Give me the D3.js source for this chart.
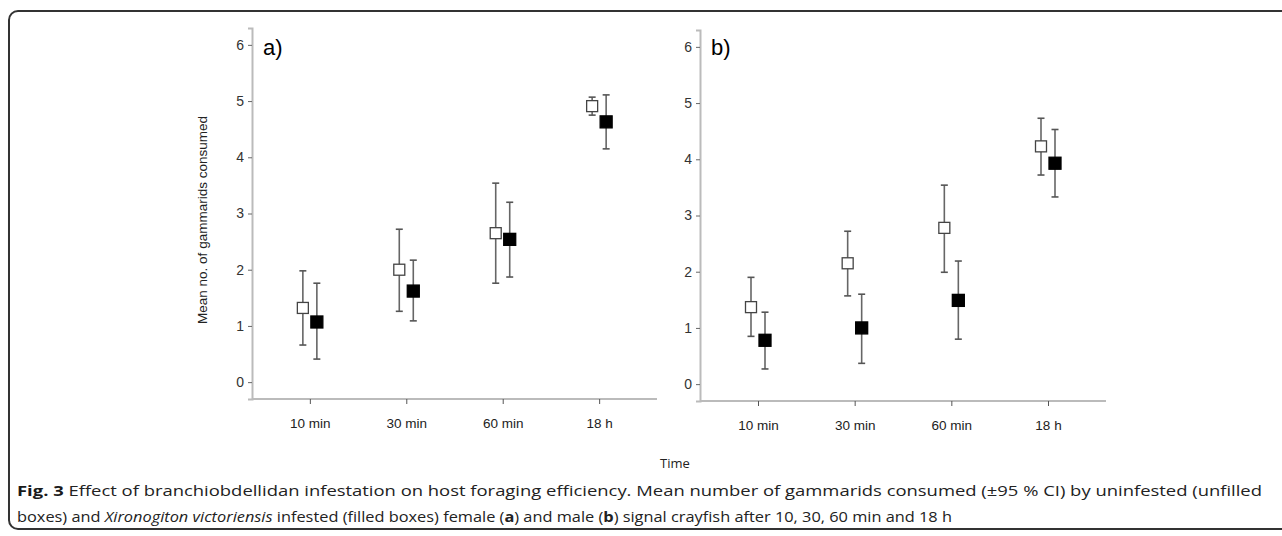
<!DOCTYPE html>
<html>
<head>
<meta charset="utf-8">
<script src="https://cdn.jsdelivr.net/npm/d3@7"></script>
<style>
  body { margin: 0; background: #fff; }
  svg { display: block; }
  .tick text { font-family: Arial, "Liberation Sans", sans-serif; }
</style>
</head>
<body>
<div id="chart"></div>
<script>
// data
const times = ['10 min', '30 min', '60 min', '18 h'];
const yTicks = [0, 1, 2, 3, 4, 5, 6];

// a) female
const femUninfMean = [1.32, 2.00, 2.65, 4.91];
const femUninfLo   = [0.66, 1.26, 1.76, 4.75];
const femUninfHi   = [1.98, 2.72, 3.54, 5.07];
const femInfMean   = [1.07, 1.62, 2.54, 4.63];
const femInfLo     = [0.41, 1.09, 1.87, 4.15];
const femInfHi     = [1.76, 2.17, 3.20, 5.11];

// b) male
const maleUninfMean = [1.37, 2.15, 2.78, 4.23];
const maleUninfLo   = [0.85, 1.57, 1.99, 3.72];
const maleUninfHi   = [1.90, 2.72, 3.54, 4.73];
const maleInfMean   = [0.78, 1.00, 1.49, 3.93];
const maleInfLo     = [0.27, 0.37, 0.80, 3.33];
const maleInfHi     = [1.28, 1.60, 2.19, 4.53];

const W = 1282, H = 536;
const svg = d3.select('#chart').append('svg')
  .attr('width', W)
  .attr('height', H);

// outer frame
svg.append('rect')
  .attr('x', 9).attr('y', 11)
  .attr('width', 1300).attr('height', 518)
  .attr('rx', 9)
  .attr('fill', 'none')
  .attr('stroke', '#333')
  .attr('stroke-width', 2);

function series(mean, lo, hi, filled) {
  return times.map((t, i) => ({ t, m: mean[i], lo: lo[i], hi: hi[i], filled }));
}

const panels = [
  { label: 'a)', x0: 252, x1: 657, yTop: 28, yBot: 399,
    data: [series(femUninfMean, femUninfLo, femUninfHi, false), series(femInfMean, femInfLo, femInfHi, true)] },
  { label: 'b)', x0: 700, x1: 1106, yTop: 30, yBot: 401,
    data: [series(maleUninfMean, maleUninfLo, maleUninfHi, false), series(maleInfMean, maleInfLo, maleInfHi, true)] }
];

const dodge = 7;

panels.forEach(p => {
  const x = d3.scalePoint().domain(times).range([p.x0, p.x1]).padding(0.6);
  const y = d3.scaleLinear().domain([-0.3, 6.3]).range([p.yBot, p.yTop]);

  const g = svg.append('g');

  // y axis
  const ya = g.append('g')
    .attr('transform', `translate(${p.x0},0)`)
    .call(d3.axisLeft(y).tickValues(yTicks).tickSize(4).tickPadding(4).tickFormat(d3.format('d')));
  ya.select('.domain').attr('stroke', '#bbb').attr('stroke-width', 2);
  ya.selectAll('.tick line').attr('stroke', '#666');
  ya.selectAll('.tick text').attr('font-size', 14).attr('fill', '#333');

  // x axis
  const xa = g.append('g')
    .attr('transform', `translate(0,${p.yBot})`)
    .call(d3.axisBottom(x).tickSize(5).tickPadding(14));
  xa.select('.domain').attr('stroke', '#bbb').attr('stroke-width', 2)
    .attr('d', `M${p.x0},0H${p.x1}`);
  xa.selectAll('.tick line').attr('stroke', '#555');
  xa.selectAll('.tick text').attr('font-size', 13.5).attr('fill', '#222');

  // panel label
  g.append('text')
    .attr('x', p.x0 + 11).attr('y', 55)
    .attr('font-family', 'Arial, "Liberation Sans", sans-serif')
    .attr('font-size', 22)
    .text(p.label);

  // error bars and boxes
  p.data.forEach(s => {
    const off = s[0].filled ? dodge : -dodge;
    const sg = g.append('g');
    const bars = sg.selectAll('g.bar').data(s).join('g').attr('class', 'bar');
    bars.append('line')
      .attr('x1', d => x(d.t) + off).attr('x2', d => x(d.t) + off)
      .attr('y1', d => y(d.lo)).attr('y2', d => y(d.hi))
      .attr('stroke', '#666').attr('stroke-width', 1.6);
    ['lo', 'hi'].forEach(k => {
      bars.append('line')
        .attr('x1', d => x(d.t) + off - 3.5).attr('x2', d => x(d.t) + off + 3.5)
        .attr('y1', d => y(d[k])).attr('y2', d => y(d[k]))
        .attr('stroke', '#555').attr('stroke-width', 1.6);
    });
    const sz = s[0].filled ? 12 : 11;
    bars.append('rect')
      .attr('x', d => x(d.t) + off - sz / 2)
      .attr('y', d => y(d.m) - sz / 2)
      .attr('width', sz).attr('height', sz)
      .attr('fill', d => d.filled ? '#000' : '#fff')
      .attr('stroke', d => d.filled ? '#000' : '#444')
      .attr('stroke-width', 1.3);
  });
});

// y axis title
svg.append('text')
  .attr('transform', 'translate(207,220) rotate(-90)')
  .attr('text-anchor', 'middle')
  .attr('font-family', 'Arial, "Liberation Sans", sans-serif')
  .attr('font-size', 13.5)
  .attr('fill', '#222')
  .text('Mean no. of gammarids consumed');

// x axis title
svg.append('text')
  .attr('x', 675).attr('y', 468)
  .attr('text-anchor', 'middle')
  .attr('font-family', '"Open Sans", sans-serif')
  .attr('font-size', 13)
  .attr('fill', '#222')
  .text('Time');

// caption
const cap = svg.append('g')
  .attr('font-family', '"Open Sans", sans-serif')
  .attr('font-size', 14.5)
  .attr('fill', '#222');

const line1 = cap.append('text').attr('x', 17).attr('y', 496)
  .attr('textLength', 1245).attr('lengthAdjust', 'spacingAndGlyphs');
line1.append('tspan').attr('font-weight', 'bold').attr('fill', '#1a1a1a').text('Fig. 3');
line1.append('tspan').text(' Effect of branchiobdellidan infestation on host foraging efficiency. Mean number of gammarids consumed (±95 % CI) by uninfested (unfilled');

const line2 = cap.append('text').attr('x', 17).attr('y', 522)
  .attr('textLength', 935).attr('lengthAdjust', 'spacingAndGlyphs');
line2.append('tspan').text('boxes) and ');
line2.append('tspan').attr('font-style', 'italic').text('Xironogiton victoriensis');
line2.append('tspan').text(' infested (filled boxes) female (');
line2.append('tspan').attr('font-weight', 'bold').text('a');
line2.append('tspan').text(') and male (');
line2.append('tspan').attr('font-weight', 'bold').text('b');
line2.append('tspan').text(') signal crayfish after 10, 30, 60 min and 18 h');
</script>
</body>
</html>
